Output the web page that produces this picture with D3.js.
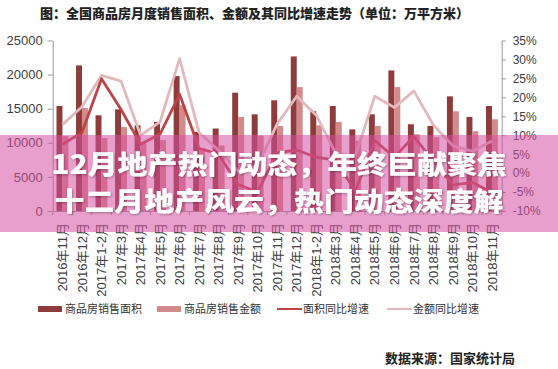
<!DOCTYPE html>
<html>
<head>
<meta charset="utf-8">
<script src="https://cdn.jsdelivr.net/npm/d3@7"></script>
<style>
html,body{margin:0;padding:0;background:#fff;}
svg{display:block;}
</style>
</head>
<body>
<svg id="chart" width="558" height="369"></svg>
<script>
const categories = ["2016年11月","2016年12月","2017年1-2月","2017年3月","2017年4月","2017年5月","2017年6月","2017年7月","2017年8月","2017年9月","2017年10月","2017年11月","2017年12月","2018年1-2月","2018年3月","2018年4月","2018年5月","2018年6月","2018年7月","2018年8月","2018年9月","2018年10月","2018年11月"];
const salesArea = [15400, 21350, 14030, 14900, 12570, 13060, 19780, 11600, 12090, 17350, 14180, 16230, 22660, 14620, 15400, 11970, 14180, 20610, 12720, 12470, 16810, 13790, 15400];
const salesAmount = [11000, 15100, 10700, 12300, 9900, 10400, 15500, 9250, 9600, 13790, 11060, 12470, 18170, 12570, 13060, 10300, 12470, 18170, 11260, 10800, 14620, 11700, 13450];
const areaGrowth = [7.6, 10.7, 24.9, 16.8, 7.6, 10.3, 20.8, 6.5, 5, -3, -5, 5.4, 6.1, 4.2, 3.4, -4.8, 8.6, 4.2, 9.7, 3.1, -3.1, -2.5, -5.1];
const amountGrowth = [12.8, 17.5, 25.8, 24.3, 10, 13.5, 30.2, 10.7, 6, 0.5, 2, 13, 20.3, 15.3, 5.2, 4.5, 20.3, 17.3, 21.7, 12.7, 7.2, 5.8, 8.5];
const leftTicks = [0, 5000, 10000, 15000, 20000, 25000];
const rightTicks = [-10, -5, 0, 5, 10, 15, 20, 25, 30, 35];
const seriesNames = ["商品房销售面积", "商品房销售金额", "面积同比增速", "金额同比增速"];
const titleText = "图：全国商品房月度销售面积、金额及其同比增速走势（单位：万平方米）";
const sourceText = "数据来源：国家统计局";
const overlayLines = ["12月地产热门动态，年终巨献聚焦", "十二月地产风云，热门动态深度解"];

const svg = d3.select("#chart");
const W = 558, H = 369;
const plot = {left: 52.7, right: 501.7, top: 40.5, bottom: 211};
const C = {dark: "#8E3B3B", light: "#D4898A", line1: "#BC4446", line2: "#E2B9BD", axis: "#9A9A9A", text: "#404040"};
const sans = "'Liberation Sans','Noto Sans CJK SC',sans-serif";
const cjk = "'Noto Sans CJK SC','Liberation Sans',sans-serif";

const x = d3.scaleBand().domain(categories).range([plot.left, plot.right]).padding(0);
const x1 = d3.scaleBand().domain(["a", "b"]).range([x.bandwidth() * 0.195, x.bandwidth() * 0.805]).padding(0);
const yL = d3.scaleLinear().domain([0, 25000]).range([plot.bottom, plot.top]);
const yR = d3.scaleLinear().domain([-10, 35]).range([plot.bottom, plot.top]);

// title
svg.append("text").attr("x", 40).attr("y", 18).attr("font-family", cjk).attr("font-weight", 900)
  .attr("font-size", 13).attr("fill", "#222").text(titleText);

// bars
const g = svg.append("g");
g.selectAll("rect.a").data(salesArea).join("rect").attr("class", "a")
  .attr("x", (d, i) => x(categories[i]) + x1("a")).attr("width", x1.bandwidth())
  .attr("y", d => yL(d)).attr("height", d => yL(0) - yL(d)).attr("fill", C.dark);
g.selectAll("rect.b").data(salesAmount).join("rect").attr("class", "b")
  .attr("x", (d, i) => x(categories[i]) + x1("b")).attr("width", x1.bandwidth())
  .attr("y", d => yL(d)).attr("height", d => yL(0) - yL(d)).attr("fill", C.light);

// lines
const cx = (i) => x(categories[i]) + x.bandwidth() / 2;
const line = d3.line().x((d, i) => cx(i)).y(d => yR(d));
g.append("path").datum(amountGrowth).attr("d", line).attr("fill", "none").attr("stroke", C.line2)
  .attr("stroke-width", 2.8).attr("stroke-linejoin", "round");
g.append("path").datum(areaGrowth).attr("d", line).attr("fill", "none").attr("stroke", C.line1)
  .attr("stroke-width", 2.8).attr("stroke-linejoin", "round");

// axes
function styleAxis(sel) {
  sel.selectAll(".domain").attr("stroke", C.axis);
  sel.selectAll(".tick line").attr("stroke", C.axis);
  sel.selectAll(".tick text").attr("fill", C.text);
}
const axL = svg.append("g").attr("transform", `translate(${plot.left},0)`)
  .call(d3.axisLeft(yL).tickValues(leftTicks).tickSize(5).tickPadding(5).tickSizeOuter(0).tickFormat(d3.format("d")))
  .attr("font-family", sans).attr("font-size", 13);
styleAxis(axL);
const axR = svg.append("g").attr("transform", `translate(${plot.right},0)`)
  .call(d3.axisRight(yR).tickValues(rightTicks).tickSize(4).tickPadding(7).tickSizeOuter(0).tickFormat(d => d + "%"))
  .attr("font-family", sans).attr("font-size", 12);
styleAxis(axR);
const axB = svg.append("g").attr("transform", `translate(0,${plot.bottom})`)
  .call(d3.axisBottom(x).tickSize(0).tickSizeOuter(0))
  .attr("font-family", sans).attr("font-size", 13);
axB.selectAll(".tick text").attr("transform", "rotate(-90)").attr("text-anchor", "end")
  .attr("x", -12).attr("y", 0).attr("dy", "0.36em");
styleAxis(axB);
// boundary ticks
axB.selectAll("line.bt").data(categories.concat(["_end"])).join("line").attr("class", "bt")
  .attr("x1", (d, i) => plot.left + i * x.bandwidth()).attr("x2", (d, i) => plot.left + i * x.bandwidth())
  .attr("y1", 0).attr("y2", 4).attr("stroke", C.axis);

// legend
const leg = svg.append("g").attr("font-family", cjk).attr("font-size", 11).attr("fill", "#333");
const legItems = [
  {x: 38, type: "rect", color: C.dark, label: seriesNames[0]},
  {x: 157, type: "rect", color: C.light, label: seriesNames[1]},
  {x: 277, type: "line", color: C.line1, label: seriesNames[2]},
  {x: 387, type: "line", color: C.line2, label: seriesNames[3]}
];
legItems.forEach(it => {
  if (it.type === "rect") {
    leg.append("rect").attr("x", it.x).attr("y", 306).attr("width", 24).attr("height", 6).attr("fill", it.color);
    leg.append("text").attr("x", it.x + 27).attr("y", 313).text(it.label);
  } else {
    leg.append("line").attr("x1", it.x).attr("x2", it.x + 25).attr("y1", 309).attr("y2", 309)
      .attr("stroke", it.color).attr("stroke-width", 2);
    leg.append("text").attr("x", it.x + 26).attr("y", 313).text(it.label);
  }
});

// source
svg.append("text").attr("x", 515).attr("y", 363).attr("text-anchor", "end").attr("font-family", cjk)
  .attr("font-weight", 700).attr("font-size", 13).attr("fill", "#222").text(sourceText);

// overlay band
const defs = svg.append("defs");
const f = defs.append("filter").attr("id", "sh").attr("x", "-5%").attr("y", "-20%").attr("width", "110%").attr("height", "140%");
f.append("feDropShadow").attr("dx", 1).attr("dy", 1).attr("stdDeviation", 1).attr("flood-color", "#000").attr("flood-opacity", 0.3);
svg.append("rect").attr("x", 0).attr("y", 135).attr("width", W).attr("height", 97)
  .attr("fill", "rgb(214,80,160)").attr("fill-opacity", 0.55);
svg.selectAll("text.ov").data(overlayLines).join("text").attr("class", "ov")
  .attr("transform", (d, i) => `translate(${W / 2},${174 + i * 36.5}) scale(1.13,1)`)
  .attr("text-anchor", "middle")
  .attr("font-family", cjk).attr("font-weight", 900).attr("font-size", 26.5).attr("fill", "#fff")
  .attr("filter", "url(#sh)").text(d => d);
</script>
</body>
</html>
